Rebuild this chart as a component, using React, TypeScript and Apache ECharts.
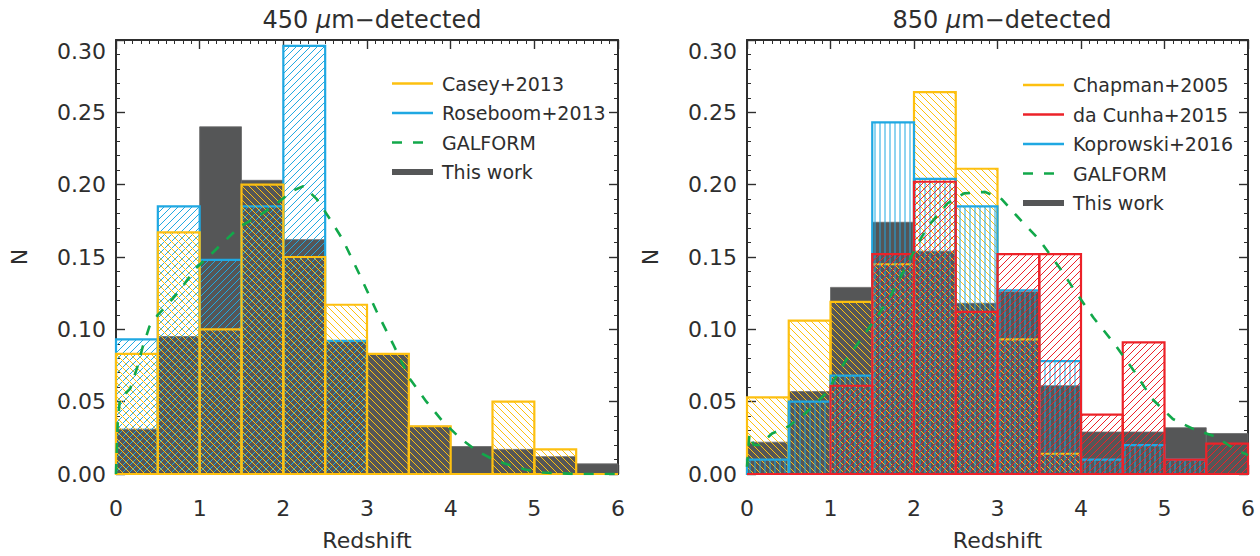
import React, { useEffect, useRef } from "react";
import * as echarts from "echarts";

// ---------- data ----------
const binEdges = [0, 0.5, 1, 1.5, 2, 2.5, 3, 3.5, 4, 4.5, 5, 5.5, 6];

// 450 um panel
const thisWork450 = [0.031, 0.095, 0.240, 0.203, 0.162, 0.092, 0.083, 0.033, 0.019, 0.017, 0.012, 0.007];
const casey2013 = [0.083, 0.167, 0.100, 0.200, 0.150, 0.117, 0.083, 0.033, 0, 0.050, 0.017, 0];
const roseboom2013 = [0.093, 0.185, 0.148, 0.185, 0.296, 0.092, 0, 0, 0, 0, 0, 0];
const galform450: [number, number][] = [
  [0, 0], [0.02, 0.035], [0.05, 0.054], [0.1, 0.055], [0.17, 0.059], [0.25, 0.073], [0.32, 0.088],
  [0.4, 0.102], [0.5, 0.11], [0.6, 0.116], [0.75, 0.126], [0.95, 0.142], [1.12, 0.151], [1.28, 0.16],
  [1.48, 0.171], [1.7, 0.178], [1.92, 0.187], [2.12, 0.196], [2.24, 0.199], [2.4, 0.19], [2.56, 0.176],
  [2.71, 0.162], [2.91, 0.138], [3.11, 0.113], [3.31, 0.09], [3.51, 0.066], [3.71, 0.05], [3.91, 0.036],
  [4.11, 0.025], [4.31, 0.016], [4.51, 0.01], [4.71, 0.006], [4.9, 0.003], [5.1, 0.001], [5.5, 0], [6, 0],
];

// 850 um panel
const thisWork850 = [0.022, 0.057, 0.129, 0.174, 0.154, 0.118, 0.126, 0.061, 0.029, 0.029, 0.032, 0.028];
const chapman2005 = [0.053, 0.106, 0.119, 0.145, 0.264, 0.211, 0.093, 0.014, 0, 0, 0, 0];
const koprowski2016 = [0.010, 0.050, 0.068, 0.243, 0.204, 0.185, 0.127, 0.078, 0.010, 0.020, 0.010, 0];
const daCunha2015 = [0, 0, 0.061, 0.152, 0.202, 0.112, 0.152, 0.152, 0.041, 0.091, 0.010, 0.021];
const galform850: [number, number][] = [
  [0, 0.005], [0.03, 0.028], [0.08, 0.02], [0.15, 0.02], [0.3, 0.028], [0.5, 0.033], [0.7, 0.042],
  [0.95, 0.056], [1.2, 0.08], [1.45, 0.1], [1.7, 0.121], [1.9, 0.143], [2.15, 0.17], [2.4, 0.187],
  [2.6, 0.194], [2.85, 0.195], [3.05, 0.19], [3.3, 0.174], [3.5, 0.162], [3.75, 0.142], [3.9, 0.129],
  [4.15, 0.108], [4.4, 0.09], [4.65, 0.07], [4.85, 0.052], [5.1, 0.038], [5.35, 0.031], [5.6, 0.026],
  [5.85, 0.017], [6, 0.013],
];

const xTicks = [0, 1, 2, 3, 4, 5, 6];
const yTicks = [0, 0.05, 0.1, 0.15, 0.2, 0.25, 0.3];

// ---------- styles ----------
const FONT = "DejaVu Sans";
const INK = "#2e2e2e";
const YELLOW = "#FDC010";
const BLUE = "#1FA8E2";
const RED = "#EC2229";
const GREEN = "#12A84A";
const GRAY = "#555657";

type Hatch = "fwd" | "back" | "vert" | "solid";

function toBins(vals: number[]) {
  return vals.map((v, i) => [binEdges[i], binEdges[i + 1], v]);
}

function hatchLines(L: number, T: number, R: number, B: number, kind: Hatch, s: number, color: string) {
  const out: any[] = [];
  const ls = { stroke: color, lineWidth: 1 };
  if (kind === "fwd") {
    const cMin = Math.ceil((L + T) / s) * s;
    for (let c = cMin; c <= R + B; c += s) {
      const xa = Math.max(L, c - B);
      const xb = Math.min(R, c - T);
      if (xb > xa) out.push({ type: "line", silent: true, shape: { x1: xa, y1: c - xa, x2: xb, y2: c - xb }, style: ls });
    }
  } else if (kind === "back") {
    const cMin = Math.ceil((T - R) / s) * s;
    for (let c = cMin; c <= B - L; c += s) {
      const xa = Math.max(L, T - c);
      const xb = Math.min(R, B - c);
      if (xb > xa) out.push({ type: "line", silent: true, shape: { x1: xa, y1: xa + c, x2: xb, y2: xb + c }, style: ls });
    }
  } else if (kind === "vert") {
    const xMin = Math.ceil(L / s) * s;
    for (let x = xMin; x < R; x += s) {
      if (x > L + 0.5) out.push({ type: "line", silent: true, shape: { x1: x, y1: T, x2: x, y2: B }, style: ls });
    }
  }
  return out;
}

function histSeries(name: string, vals: number[], idx: number, kind: Hatch, color: string, spacing: number) {
  return {
    type: "custom",
    name,
    xAxisIndex: idx * 2,
    yAxisIndex: idx * 2,
    data: toBins(vals),
    encode: { x: [0, 1], y: 2 },
    renderItem: (params: any, api: any) => {
      const x0 = api.value(0);
      const x1 = api.value(1);
      const v = api.value(2);
      const pTop = api.coord([x0, v]);
      const pBot = api.coord([x1, 0]);
      const L = pTop[0], T = pTop[1], R = pBot[0], B = pBot[1];
      if (kind === "solid") {
        if (v <= 0) return { type: "group", children: [] };
        return {
          type: "rect",
          shape: { x: L, y: T, width: R - L, height: B - T },
          style: { fill: color, stroke: "#6a6a6a", lineWidth: 0.8 },
        };
      }
      const children = hatchLines(L, T, R, B, kind, spacing, color);
      children.push({
        type: "rect",
        shape: { x: L, y: T, width: R - L, height: B - T },
        style: { fill: "none", stroke: color, lineWidth: 2.2 },
      });
      return { type: "group", children };
    },
    z: 2,
  };
}

function galformSeries(data: [number, number][], idx: number) {
  return {
    type: "line",
    name: "GALFORM",
    xAxisIndex: idx * 2,
    yAxisIndex: idx * 2,
    data,
    showSymbol: false,
    symbol: "none",
    smooth: false,
    lineStyle: { color: GREEN, width: 2.6, type: [10, 11] },
    z: 5,
  };
}

function axesFor(gridIndex: number) {
  const tickLine = { color: INK, width: 1.4 };
  const axisLine = { show: true, onZero: false, lineStyle: { color: INK, width: 2 } };
  const xBase = {
    type: "value",
    gridIndex,
    min: xTicks[0],
    max: xTicks[xTicks.length - 1],
    interval: 1,
    axisLine,
    axisTick: { show: true, inside: true, length: 9, lineStyle: tickLine },
    minorTick: { show: true, splitNumber: 10, length: 4, lineStyle: { color: INK, width: 1 } },
    splitLine: { show: false },
    minorSplitLine: { show: false },
  };
  const yBase = {
    type: "value",
    gridIndex,
    min: yTicks[0],
    max: yTicks[yTicks.length - 1],
    interval: 0.05,
    axisLine,
    axisTick: { show: true, inside: true, length: 9, lineStyle: tickLine },
    minorTick: { show: true, splitNumber: 5, length: 4, lineStyle: { color: INK, width: 1 } },
    splitLine: { show: false },
    minorSplitLine: { show: false },
  };
  const xAxes = [
    {
      ...xBase,
      position: "bottom",
      axisLabel: { show: true, margin: 23, fontSize: 22, color: INK, fontFamily: FONT },
      name: "Redshift",
      nameLocation: "middle",
      nameGap: 55,
      nameTextStyle: { fontSize: 22, color: INK, fontFamily: FONT },
    },
    { ...xBase, position: "top", axisLabel: { show: false } },
  ];
  const yAxes = [
    {
      ...yBase,
      position: "left",
      axisLabel: {
        show: true,
        margin: 10,
        fontSize: 22,
        color: INK,
        fontFamily: FONT,
        formatter: (v: number) => v.toFixed(2),
        verticalAlignMaxLabel: "top",
      },
      name: "N",
      nameLocation: "middle",
      nameGap: 86,
      nameTextStyle: { fontSize: 22, color: INK, fontFamily: FONT },
    },
    { ...yBase, position: "right", axisLabel: { show: false } },
  ];
  return { xAxes, yAxes };
}

function legendItems(x: number, y0: number, items: { label: string; color: string; kind: "line" | "dash" | "thick" }[]) {
  const els: any[] = [];
  items.forEach((it, i) => {
    const y = y0 + i * 29.5;
    const lineStyle: any = { stroke: it.color, lineWidth: it.kind === "thick" ? 6 : 2.4 };
    if (it.kind === "dash") lineStyle.lineDash = [10, 11];
    els.push({ type: "line", shape: { x1: x, y1: y, x2: x + 41, y2: y }, style: lineStyle, z: 10 });
    els.push({
      type: "text",
      x: x + 50,
      y,
      style: { text: it.label, fontSize: 19, fontFamily: FONT, fill: INK, verticalAlign: "middle" },
      z: 10,
    });
  });
  return els;
}

export default function App() {
  const ref = useRef<HTMLDivElement>(null);
  useEffect(() => {
    if (!ref.current) return;
    const chart = echarts.init(ref.current, undefined, { renderer: "svg" });
    const a0 = axesFor(0);
    const a1 = axesFor(1);
    const titleStyle = {
      fontSize: 24,
      fontWeight: "normal",
      color: INK,
      fontFamily: FONT,
      rich: { i: { fontSize: 24, fontStyle: "italic", color: INK, fontFamily: FONT } },
    };
    const option: any = {
      animation: false,
      backgroundColor: "#ffffff",
      title: [
        { text: "450 {i|μ}m−detected", left: 367, top: 3, textAlign: "center", textStyle: titleStyle },
        { text: "850 {i|μ}m−detected", left: 997, top: 3, textAlign: "center", textStyle: titleStyle },
      ],
      grid: [
        { left: 116, top: 40, width: 502, height: 443 },
        { left: 747, top: 40, width: 501, height: 443 },
      ],
      xAxis: [...a0.xAxes, ...a1.xAxes],
      yAxis: [...a0.yAxes, ...a1.yAxes],
      series: [
        histSeries("This work", thisWork450, 0, "solid", GRAY, 7),
        histSeries("Roseboom+2013", roseboom2013, 0, "fwd", BLUE, 7),
        histSeries("Casey+2013", casey2013, 0, "back", YELLOW, 7),
        galformSeries(galform450, 0),
        histSeries("This work", thisWork850, 1, "solid", GRAY, 7),
        histSeries("Chapman+2005", chapman2005, 1, "back", YELLOW, 7),
        histSeries("Koprowski+2016", koprowski2016, 1, "vert", BLUE, 5),
        histSeries("da Cunha+2015", daCunha2015, 1, "fwd", RED, 7),
        galformSeries(galform850, 1),
      ],
      graphic: [
        ...legendItems(392, 83.5, [
          { label: "Casey+2013", color: YELLOW, kind: "line" },
          { label: "Roseboom+2013", color: BLUE, kind: "line" },
          { label: "GALFORM", color: GREEN, kind: "dash" },
          { label: "This work", color: GRAY, kind: "thick" },
        ]),
        ...legendItems(1023, 85, [
          { label: "Chapman+2005", color: YELLOW, kind: "line" },
          { label: "da Cunha+2015", color: RED, kind: "line" },
          { label: "Koprowski+2016", color: BLUE, kind: "line" },
          { label: "GALFORM", color: GREEN, kind: "dash" },
          { label: "This work", color: GRAY, kind: "thick" },
        ]),
      ],
    };
    chart.setOption(option);
    return () => chart.dispose();
  }, []);
  return <div ref={ref} style={{ position: "fixed", left: 0, top: 0, width: 1260, height: 556 }} />;
}
